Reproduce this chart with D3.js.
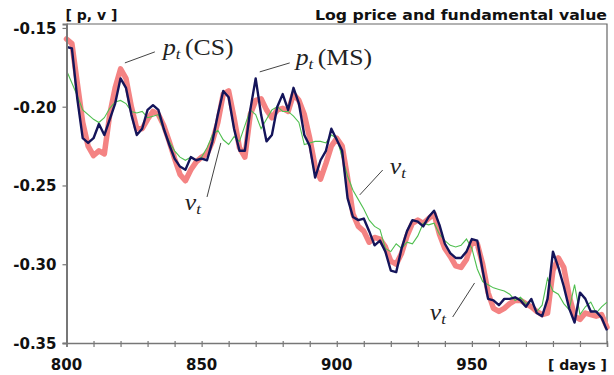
<!DOCTYPE html>
<html>
<head>
<meta charset="utf-8">
<script src="https://cdn.jsdelivr.net/npm/d3@7"></script>
<style>
    body { margin: 0; background: #fff; }
    svg { display: block; }
    .axis-label { font-family: "DejaVu Sans", sans-serif; font-weight: bold; font-size: 15px; fill: #111; }
    .note { font-family: "Liberation Serif", serif; font-size: 23px; fill: #222; }
</style>
</head>
<body>
<svg id="chart" width="614" height="375"></svg>
<script>
// Days sampled every 2 days, 800..1000
const days = d3.range(800, 1001, 2);

// Log price, CS model (thick pink)
const priceCS = [
    -0.157, -0.160, -0.185, -0.210, -0.225, -0.231, -0.228, -0.230, -0.205, -0.188,
    -0.176, -0.182, -0.200, -0.214, -0.214, -0.208, -0.203, -0.205, -0.212, -0.222,
    -0.233, -0.243, -0.247, -0.240, -0.235, -0.232, -0.230, -0.222, -0.210, -0.192,
    -0.190, -0.207, -0.226, -0.232, -0.205, -0.196, -0.195, -0.202, -0.207, -0.202,
    -0.201, -0.203, -0.192, -0.196, -0.205, -0.220, -0.238, -0.246, -0.236, -0.225,
    -0.220, -0.225, -0.245, -0.268, -0.276, -0.279, -0.286, -0.283, -0.284, -0.289,
    -0.298, -0.300, -0.293, -0.282, -0.274, -0.272, -0.274, -0.271, -0.268, -0.281,
    -0.290, -0.295, -0.301, -0.302, -0.297, -0.286, -0.287, -0.300, -0.318, -0.328,
    -0.330, -0.328, -0.325, -0.323, -0.323, -0.325, -0.327, -0.330, -0.332, -0.331,
    -0.304, -0.296, -0.302, -0.320, -0.333, -0.335, -0.331, -0.332, -0.333, -0.332,
    -0.340
];

// Log price, MS model (navy)
const priceMS = [
    -0.162, -0.163, -0.195, -0.220, -0.223, -0.220, -0.211, -0.218, -0.208, -0.198,
    -0.182, -0.188, -0.205, -0.218, -0.214, -0.202, -0.199, -0.202, -0.214, -0.224,
    -0.233, -0.238, -0.240, -0.232, -0.234, -0.233, -0.234, -0.222, -0.205, -0.190,
    -0.194, -0.214, -0.228, -0.228, -0.202, -0.182, -0.205, -0.222, -0.218, -0.200,
    -0.192, -0.202, -0.188, -0.198, -0.218, -0.225, -0.245, -0.234, -0.228, -0.214,
    -0.221, -0.228, -0.258, -0.270, -0.272, -0.271, -0.279, -0.288, -0.285, -0.292,
    -0.304, -0.305, -0.290, -0.279, -0.272, -0.273, -0.276, -0.270, -0.266, -0.275,
    -0.287, -0.293, -0.296, -0.296, -0.292, -0.284, -0.285, -0.304, -0.322, -0.323,
    -0.326, -0.322, -0.322, -0.321, -0.323, -0.327, -0.322, -0.331, -0.333, -0.322,
    -0.292, -0.302, -0.314, -0.328, -0.337, -0.318, -0.322, -0.330, -0.330, -0.334,
    -0.342
];

// Fundamental value v_t (thin green)
const fundamental = [
    -0.177, -0.185, -0.193, -0.202, -0.205, -0.208, -0.210, -0.207, -0.201, -0.197,
    -0.196, -0.198, -0.203, -0.204, -0.203, -0.207, -0.206, -0.205, -0.215, -0.222,
    -0.228, -0.232, -0.234, -0.232, -0.234, -0.232, -0.226, -0.218, -0.215, -0.221,
    -0.224, -0.219, -0.222, -0.212, -0.202, -0.205, -0.214, -0.208, -0.202, -0.200,
    -0.203, -0.203, -0.206, -0.210, -0.224, -0.223, -0.222, -0.222, -0.223, -0.218,
    -0.220, -0.232, -0.244, -0.253, -0.259, -0.265, -0.272, -0.276, -0.278, -0.290,
    -0.292, -0.287, -0.290, -0.286, -0.287, -0.282, -0.274, -0.275, -0.274, -0.281,
    -0.285, -0.288, -0.289, -0.288, -0.284, -0.290, -0.303, -0.311, -0.313, -0.315,
    -0.316, -0.317, -0.319, -0.323, -0.321, -0.325, -0.323, -0.330, -0.326, -0.309,
    -0.317, -0.319, -0.325, -0.329, -0.313, -0.332, -0.327, -0.324, -0.331, -0.327,
    -0.324
];

const xTickLabels = [800, 850, 900, 950];
const yTickLabels = [-0.15, -0.20, -0.25, -0.30, -0.35];

// Callout labels, placed in data units: [day, value] for text, line start, line end
const notes = [
    { sub: "(CS)", at: [835.7, -0.1673], from: [821.6, -0.1722], to: [832.7, -0.1652], kind: "p" },
    { sub: "(MS)", at: [884.8, -0.1738], from: [871.5, -0.1779], to: [882.6, -0.1722], kind: "p" },
    { sub: "",     at: [843.8, -0.2656], from: [852.0, -0.2573], to: [857.1, -0.2230], kind: "v" },
    { sub: "",     at: [919.6, -0.2425], from: [917.0, -0.2402], to: [908.5, -0.2560], kind: "v" },
    { sub: "",     at: [934.4, -0.3355], from: [942.9, -0.3335], to: [951.0, -0.3119], kind: "v" }
];

const width = 614;
const height = 375;
const margin = { top: 24, right: 7, bottom: 32, left: 66.5 };

const svg = d3.select("#chart");

const x = d3.scaleLinear()
    .domain([800, 1000])
    .range([margin.left, width - margin.right]);

const y = d3.scaleLinear()
    .domain([-0.35, -0.1475])
    .range([height - margin.bottom, margin.top]);

// Frame (top and right edges)
svg.append("path")
    .attr("d", `M${x(800)},${y(-0.1475)}H${x(1000)}V${y(-0.35)}`)
    .attr("fill", "none")
    .attr("stroke", "#666")
    .attr("stroke-width", 1.2);

// Series
const line = d3.line()
    .x((d, i) => x(days[i]))
    .y(d => y(d));

svg.append("path")
    .datum(priceCS)
    .attr("d", line)
    .attr("fill", "none")
    .attr("stroke", "#f48383")
    .attr("stroke-width", 5.5)
    .attr("stroke-linejoin", "round")
    .attr("stroke-linecap", "round");

svg.append("path")
    .datum(fundamental)
    .attr("d", line)
    .attr("fill", "none")
    .attr("stroke", "#4fbf4f")
    .attr("stroke-width", 1.1);

svg.append("path")
    .datum(priceMS)
    .attr("d", line)
    .attr("fill", "none")
    .attr("stroke", "#14145a")
    .attr("stroke-width", 2.4)
    .attr("stroke-linejoin", "round");

// Y axis
const yAxis = svg.append("g")
    .attr("transform", `translate(${margin.left},0)`)
    .call(d3.axisLeft(y).tickValues(yTickLabels).tickSize(4).tickFormat(d3.format(".2f")));
yAxis.select(".domain").attr("stroke", "#777").attr("stroke-width", 2);
yAxis.selectAll(".tick line").attr("stroke", "#777").attr("stroke-width", 1.2);
yAxis.selectAll(".tick text")
    .attr("class", "axis-label")
    .attr("x", -10)
    .attr("dy", "0.36em")
    .text(d => d3.format(".2f")(d).replace("−", "-"));

// X axis: minor ticks every 10 days, labels every 50
const xAxis = svg.append("g")
    .attr("transform", `translate(0,${y(-0.35)})`)
    .call(d3.axisBottom(x).tickValues(d3.range(800, 1001, 10)).tickSize(4).tickFormat(""));
xAxis.select(".domain").attr("stroke", "#777").attr("stroke-width", 1.5);
xAxis.selectAll(".tick line")
    .attr("stroke", "#777")
    .attr("stroke-width", 1.2)
    .attr("y1", -2);

xAxis.selectAll(".x-label")
    .data(xTickLabels)
    .join("text")
    .attr("class", "axis-label")
    .attr("x", d => x(d))
    .attr("y", 27)
    .attr("text-anchor", "middle")
    .text(d => d);

// Titles
svg.append("text")
    .attr("class", "axis-label")
    .attr("x", x(800) - 1)
    .attr("y", 20)
    .style("font-size", "14px")
    .text("[ p, v ]");

svg.append("text")
    .attr("class", "axis-label")
    .attr("x", x(1000))
    .attr("y", 20)
    .attr("text-anchor", "end")
    .style("font-size", "14.5px")
    .attr("textLength", 292)
    .attr("lengthAdjust", "spacingAndGlyphs")
    .text("Log price and fundamental value");

svg.append("text")
    .attr("class", "axis-label")
    .attr("x", x(1000))
    .attr("y", y(-0.35) + 27)
    .attr("text-anchor", "end")
    .style("font-size", "14px")
    .text("[ days ]");

// Callouts
const noteG = svg.append("g");

noteG.selectAll("line")
    .data(notes)
    .join("line")
    .attr("x1", d => x(d.from[0]))
    .attr("y1", d => y(d.from[1]))
    .attr("x2", d => x(d.to[0]))
    .attr("y2", d => y(d.to[1]))
    .attr("stroke", "#444")
    .attr("stroke-width", 1);

// the source typesetting is wider than Times, so stretch a bit
const noteText = noteG.selectAll("text")
    .data(notes)
    .join("text")
    .attr("class", "note")
    .attr("transform", d => `translate(${x(d.at[0])},${y(d.at[1])}) scale(1.12,1)`);

noteText.append("tspan")
    .style("font-style", "italic")
    .text(d => d.kind);
noteText.append("tspan")
    .style("font-style", "italic")
    .style("font-size", "15px")
    .attr("dy", 4)
    .text("t");
noteText.filter(d => d.sub)
    .append("tspan")
    .attr("dy", -4)
    .attr("dx", 4)
    .text(d => d.sub);
</script>
</body>
</html>
